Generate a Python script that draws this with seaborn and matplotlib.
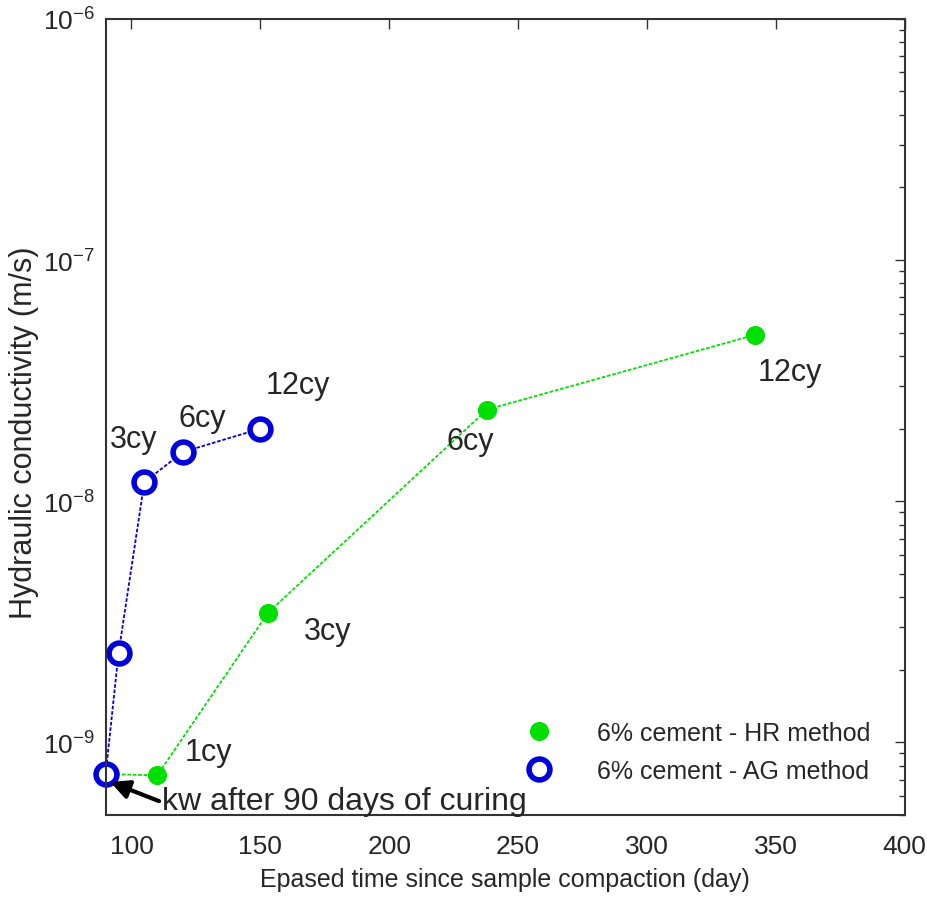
import numpy as np
import pandas as pd
import matplotlib
matplotlib.use("Agg")
import matplotlib.pyplot as plt
import seaborn as sns

# data
hr_days = [90, 110, 153, 238, 342]
hr_k = [7.4e-10, 7.3e-10, 3.45e-9, 2.4e-8, 4.9e-8]
hr_labels = ["", "1cy", "3cy", "6cy", "12cy"]

ag_days = [90, 95, 105, 120, 150]
ag_k = [7.4e-10, 2.35e-9, 1.2e-8, 1.6e-8, 2.0e-8]
ag_labels = ["", "", "3cy", "6cy", "12cy"]

sns.set_style("white")
plt.rcParams['font.family'] = ['Liberation Sans', 'DejaVu Sans']

green = "#00e000"
blue = "#0000dd"

fig = plt.figure(figsize=(9.27, 9.03), dpi=100)
ax = fig.add_axes([0.114, 0.0963, 0.862, 0.8817])

hr = pd.DataFrame({"day": hr_days, "k": hr_k})
ag = pd.DataFrame({"day": ag_days, "k": ag_k})

sns.lineplot(data=hr, x="day", y="k", ax=ax, color=green, lw=1.3,
             linestyle=(0, (2, 1)), marker="o", markersize=13,
             markerfacecolor=green, markeredgecolor=green,
             label="6% cement - HR method")
sns.lineplot(data=ag, x="day", y="k", ax=ax, color=blue, lw=1.3,
             linestyle=(0, (2, 1)), marker="o", markersize=15,
             markerfacecolor="white", markeredgecolor=blue, markeredgewidth=4,
             label="6% cement - AG method")
for ln in ax.lines:
    ln.set_clip_on(False)

ax.set_yscale("log")
ax.set_xlim(90, 400)
ax.set_ylim(5e-10, 1e-6)
ax.set_xticks([100, 150, 200, 250, 300, 350, 400])

# cycle labels (offsets in points)
hr_off = [(0, 0), (20, 17), (26, -13), (-29.5, -23), (2, -27)]
for x, y, t, o in zip(hr_days, hr_k, hr_labels, hr_off):
    if t:
        ax.annotate(t, (x, y), xytext=o, textcoords="offset points",
                    fontsize=22, ha="left", va="center")
ag_off = [(0, 0), (0, 0), (-24.5, 31), (-3.6, 24.5), (3.6, 31.7)]
for x, y, t, o in zip(ag_days, ag_k, ag_labels, ag_off):
    if t:
        ax.annotate(t, (x, y), xytext=o, textcoords="offset points",
                    fontsize=22, ha="left", va="center")

ax.annotate("kw after 90 days of curing", xy=(91.8, 6.85e-10),
            xytext=(112, 5.72e-10), fontsize=23, ha="left", va="center",
            arrowprops=dict(arrowstyle="-|>", color="black", lw=3,
                            mutation_scale=28, shrinkA=0, shrinkB=0,
                            relpos=(0, 0.45)))

ax.set_xlabel("Epased time since sample compaction (day)", fontsize=18,
              labelpad=6)
ax.set_ylabel("Hydraulic conductivity (m/s)", fontsize=22)
ax.yaxis.set_label_coords(-0.084, 0.482)
ax.tick_params(axis="both", which="both", direction="in", top=True, right=True,
               labelsize=19, color="#333333")
ax.tick_params(axis="x", which="major", pad=14)
ax.tick_params(axis="y", which="major", pad=8)
ax.tick_params(which="major", length=7, width=1)
ax.tick_params(which="minor", length=4, width=1)
for s in ax.spines.values():
    s.set_color("#333333")
    s.set_linewidth(1.5)

ax.legend(loc="lower right", bbox_to_anchor=(0.985, 0.012), frameon=False,
          fontsize=18, handlelength=0.6, handletextpad=2.0, labelspacing=0.55)

fig.savefig("out.png", dpi=100)
